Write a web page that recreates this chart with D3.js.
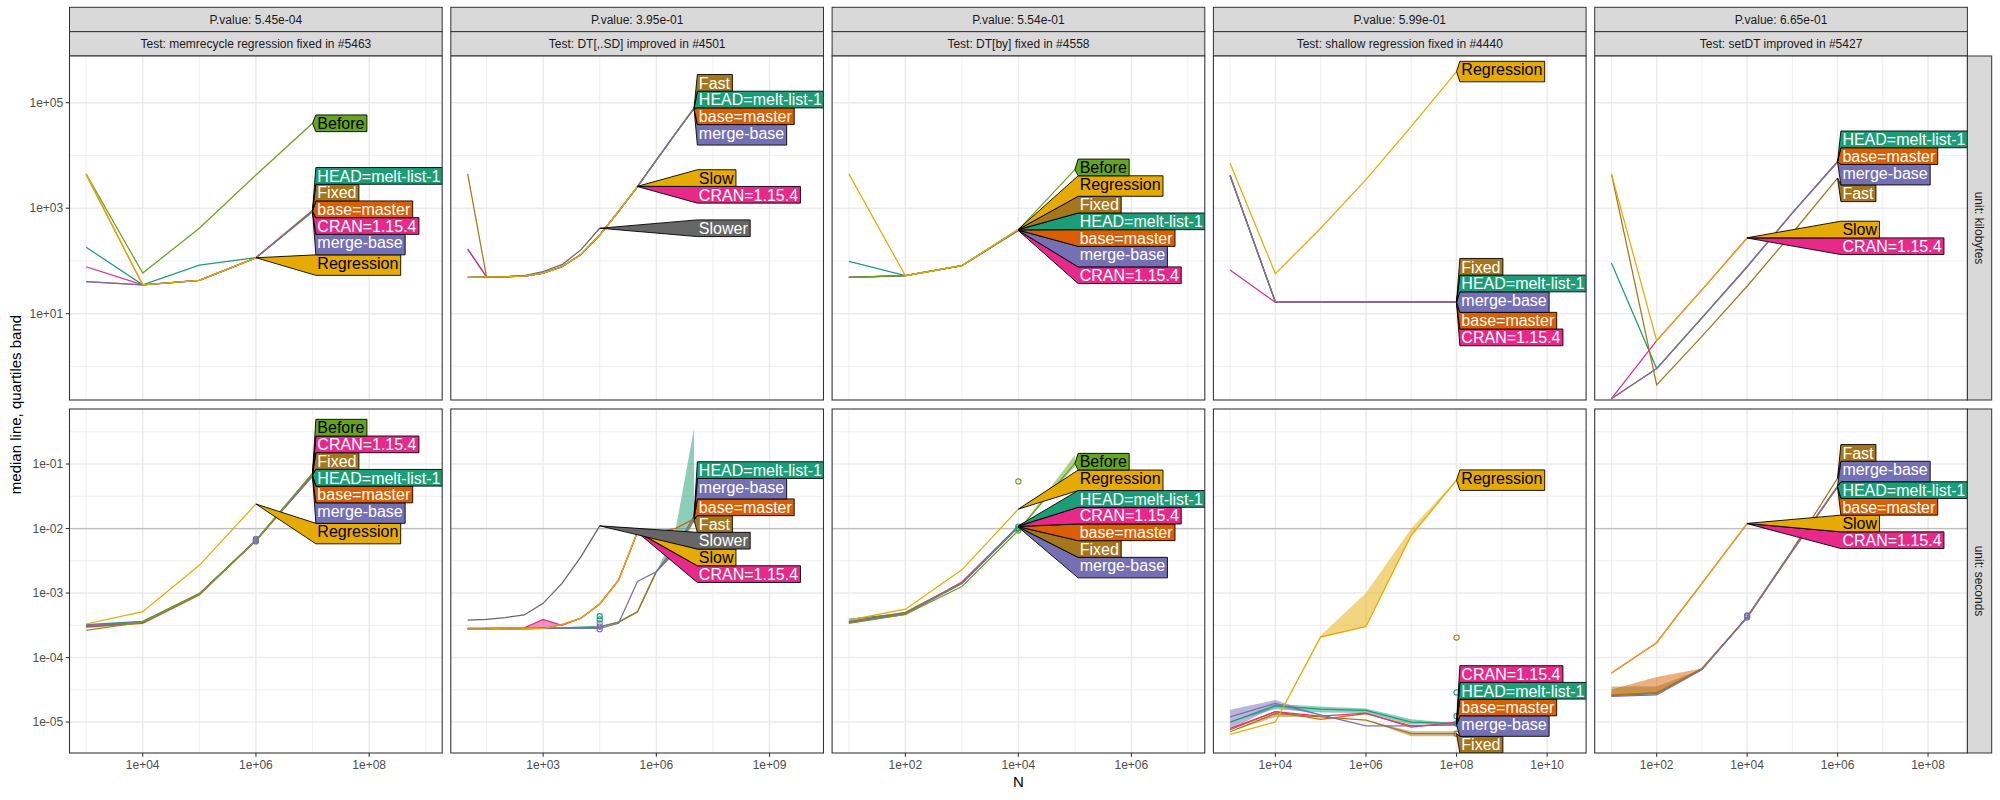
<!DOCTYPE html>
<html><head><meta charset="utf-8">
<script src="https://cdn.jsdelivr.net/npm/d3@7"></script>
<style>body{margin:0;background:#fff}svg{font-family:"Liberation Sans",Arial,Helvetica,sans-serif}</style>
</head><body><svg id="chart" width="2000" height="800"></svg>
<script>
// ---------------- DATA ----------------
const testNames = ["memrecycle regression fixed in #5463","DT[,.SD] improved in #4501","DT[by] fixed in #4558","shallow regression fixed in #4440","setDT improved in #5427"];
const pValues = ["5.45e-04","3.95e-01","5.54e-01","5.99e-01","6.65e-01"];
const unitNames = ["kilobytes","seconds"];
const seriesNames = ["HEAD=melt-list-1","base=master","CRAN=1.15.4","Fixed","Fast","merge-base","Before","Slower","Slow","Regression"];
const seriesColors = ["#1B9E77","#D95F02","#E7298A","#A6761D","#A6761D","#7570B3","#66A61E","#666666","#E6AB02","#E6AB02"];

// axis limits (log10 exponents) and tick values
const yLimitsKB = [-0.636, 5.885];
const yLimitsSec = [-5.48, -0.147];
const yTicksKB = [10, 1000, 100000];
const yTicksSec = [1e-5, 1e-4, 1e-3, 1e-2, 1e-1];
const secondsLimit = 0.01;
const xLimits = [[2.707, 9.29], [0.553, 10.43], [0.703, 7.30], [2.632, 10.86], [0.630, 8.87]];
const xTicks = [[1e4, 1e6, 1e8], [1e3, 1e6, 1e9], [1e2, 1e4, 1e6], [1e4, 1e6, 1e8, 1e10], [1e2, 1e4, 1e6, 1e8]];

// ---- Panel 1: memrecycle ----
const p1N = [1e3, 1e4, 1e5, 1e6, 1e7];
const p1Series = ["HEAD=melt-list-1","base=master","CRAN=1.15.4","Fixed","merge-base","Before","Regression"];
const p1KB = [
  [182, 35.2, 83.2, 115, 912],
  [40.7, 35.2, 42.7, 115, 881],
  [77.6, 35.2, 42.7, 115, 861],
  [4365, 35.2, 42.7, 115, 891],
  [40.7, 35.2, 42.7, 115, 851],
  [4470, 58.9, 417, 4270, 40700],
  [4470, 35.2, 42.7, 115, null]
];
const p1Sec = [
  [3.24e-4, 3.63e-4, 9.77e-4, 6.46e-3, 6.76e-2],
  [2.95e-4, 3.39e-4, 9.33e-4, 6.46e-3, 6.61e-2],
  [3.02e-4, 3.47e-4, 9.55e-4, 6.61e-3, 7.08e-2],
  [3.09e-4, 3.55e-4, 9.77e-4, 6.61e-3, 6.92e-2],
  [3.16e-4, 3.55e-4, 9.55e-4, 6.61e-3, 6.46e-2],
  [2.63e-4, 3.55e-4, 9.55e-4, 6.46e-3, 7.24e-2],
  [3.31e-4, 5.13e-4, 2.69e-3, 2.40e-2, null]
];
const p1Bands = [];
const p1LabelsKB = ["Before","HEAD=melt-list-1","Fixed","base=master","CRAN=1.15.4","merge-base","Regression"];
const p1LabelsSec = ["Before","CRAN=1.15.4","Fixed","HEAD=melt-list-1","base=master","merge-base","Regression"];

// ---- Panel 2: DT[,.SD] ----
const p2N = [10, 31.6, 100, 316, 1000, 3160, 1e4, 31600, 1e5, 316000, 1e6, 3160000, 1e7];
const p2Series = ["HEAD=melt-list-1","base=master","CRAN=1.15.4","Fast","merge-base","Slower","Slow"];
const p2KB = [
  [166, 50.1, 50.1, 51.3, 58.9, 77.6, 132, 309, 871, 2570, 8130, 25700, 78500],
  [49.0, 50.1, 50.1, 51.3, 58.9, 77.6, 132, 309, 871, 2570, 8130, 25700, 77600],
  [170, 50.1, 50.1, 51.3, 58.9, 77.6, 132, 309, 871, 2570, null, null, null],
  [4470, 50.1, 50.1, 51.3, 58.9, 77.6, 132, 309, 871, 2570, 8130, 25700, 79400],
  [49.0, 50.1, 50.1, 51.3, 58.9, 77.6, 132, 309, 871, 2570, 8130, 25700, 76700],
  [49.0, 50.1, 50.1, 52.5, 63.1, 85.1, 162, 417, null, null, null, null, null],
  [49.0, 50.1, 50.1, 51.3, 58.9, 77.6, 132, 309, 871, 2600, null, null, null]
];
const p2Sec = [
  [2.82e-4, 2.82e-4, 2.82e-4, 2.82e-4, 2.88e-4, 2.88e-4, 2.95e-4, 3.02e-4, 3.55e-4, 5.13e-4, 2.14e-3, 4.47e-3, 1.58e-2],
  [2.75e-4, 2.75e-4, 2.88e-4, 2.82e-4, 2.82e-4, 3.24e-4, 4.07e-4, 6.76e-4, 1.58e-3, 8.91e-3, 8.91e-3, 1.0e-2, 1.41e-2],
  [2.75e-4, 2.82e-4, 2.82e-4, 2.88e-4, 3.89e-4, 3.16e-4, 4.07e-4, 6.76e-4, 1.58e-3, 8.71e-3, null, null, null],
  [2.82e-4, 2.82e-4, 2.88e-4, 2.82e-4, 2.88e-4, 2.82e-4, 2.88e-4, 2.95e-4, 3.55e-4, 5.13e-4, 2.14e-3, 4.68e-3, 1.35e-2],
  [2.75e-4, 2.75e-4, 2.75e-4, 2.75e-4, 2.82e-4, 2.82e-4, 2.82e-4, 2.82e-4, 3.39e-4, 1.51e-3, 2.14e-3, 5.25e-3, 1.48e-2],
  [3.80e-4, 3.89e-4, 4.17e-4, 4.57e-4, 6.92e-4, 1.41e-3, 3.63e-3, 1.10e-2, null, null, null, null, null],
  [2.75e-4, 2.75e-4, 2.88e-4, 2.82e-4, 2.82e-4, 3.24e-4, 4.07e-4, 6.76e-4, 1.58e-3, 8.91e-3, null, null, null]
];
const p2Bands = [
  ["HEAD=melt-list-1", 3160000, 3.98e-3, 8.91e-3],
  ["HEAD=melt-list-1", 1e7, 1.26e-2, 0.357],
  ["CRAN=1.15.4", 1000, 2.82e-4, 3.89e-4]
];
const p2LabelsKB = ["Fast","HEAD=melt-list-1","base=master","merge-base","Slow","CRAN=1.15.4","Slower"];
const p2LabelsSec = ["HEAD=melt-list-1","merge-base","base=master","Fast","Slower","Slow","CRAN=1.15.4"];

// ---- Panel 3: DT[by] ----
const p3N = [10, 100, 1000, 1e4, 1e5];
const p3Series = ["HEAD=melt-list-1","base=master","CRAN=1.15.4","Fixed","merge-base","Before","Regression"];
const p3KB = [
  [97.7, 52.5, 81.3, 389, null],
  [49.0, 52.5, 81.3, 385, null],
  [49.0, 52.5, 81.3, 376, null],
  [49.0, 52.5, 81.3, 394, null],
  [49.0, 52.5, 81.3, 380, null],
  [49.0, 52.5, 81.3, 389, 5370],
  [4470, 52.5, 81.3, 398, null]
];
const p3Sec = [
  [3.89e-4, 4.90e-4, 1.45e-3, 1.10e-2, null],
  [3.55e-4, 4.79e-4, 1.41e-3, 1.07e-2, null],
  [3.47e-4, 4.68e-4, 1.48e-3, 1.08e-2, null],
  [3.63e-4, 5.01e-4, 1.45e-3, 1.06e-2, null],
  [3.63e-4, 4.79e-4, 1.41e-3, 1.05e-2, null],
  [3.39e-4, 4.68e-4, 1.26e-3, 9.33e-3, 1.02e-1],
  [3.80e-4, 5.62e-4, 2.29e-3, 2.00e-2, null]
];
const p3Bands = [["Before", 1e5, 9.12e-2, 0.138]];
const p3LabelsKB = ["Before","Regression","Fixed","HEAD=melt-list-1","base=master","merge-base","CRAN=1.15.4"];
const p3LabelsSec = ["Before","Regression","HEAD=melt-list-1","CRAN=1.15.4","base=master","Fixed","merge-base"];

// ---- Panel 4: shallow ----
const p4N = [1e3, 1e4, 1e5, 1e6, 1e7, 1e8];
const p4Series = ["HEAD=melt-list-1","base=master","CRAN=1.15.4","Fixed","merge-base","Regression"];
const p4KB = [
  [4170, 16.7, 16.7, 16.7, 16.7, 16.7],
  [4170, 16.5, 16.5, 16.5, 16.5, 16.5],
  [67.6, 16.4, 16.4, 16.4, 16.4, 16.4],
  [4170, 16.8, 16.8, 16.8, 16.8, 16.8],
  [4170, 16.6, 16.6, 16.6, 16.6, 16.6],
  [7080, 57.5, 417, 3470, 35500, 389000]
];
const p4Sec = [
  [1.0e-5, 1.78e-5, 1.58e-5, 1.51e-5, 1.0e-5, 9.55e-6],
  [7.59e-6, 1.45e-5, 1.10e-5, 1.35e-5, 8.71e-6, 9.12e-6],
  [7.94e-6, 1.45e-5, 1.23e-5, 1.38e-5, 8.32e-6, 1.0e-5],
  [7.08e-6, 1.35e-5, 1.20e-5, 1.07e-5, 6.61e-6, 6.61e-6],
  [1.20e-5, 1.95e-5, 1.29e-5, 8.71e-6, 8.71e-6, 9.02e-6],
  [6.46e-6, 1.0e-5, 2.09e-4, 3.02e-4, 7.94e-3, 5.62e-2]
];
const p4Bands = [
  ["Regression", 1e5, 2.0e-4, 2.19e-4], ["Regression", 1e6, 2.95e-4, 1.0e-3],
  ["Regression", 1e7, 7.41e-3, 1.0e-2], ["Regression", 1e8, 5.5e-2, 5.75e-2],
  ["merge-base", 1e3, 7.6e-6, 1.55e-5], ["merge-base", 1e4, 1.74e-5, 2.19e-5],
  ["HEAD=melt-list-1", 1e4, 1.58e-5, 1.9e-5], ["HEAD=melt-list-1", 1e5, 1.41e-5, 1.74e-5],
  ["HEAD=melt-list-1", 1e6, 1.38e-5, 1.62e-5], ["HEAD=melt-list-1", 1e7, 9.1e-6, 1.1e-5],
  ["Fixed", 1e4, 1.2e-5, 1.4e-5], ["Fixed", 1e7, 6.0e-6, 7.2e-6], ["Fixed", 1e8, 6.0e-6, 7.2e-6]
];
const p4LabelsKB = ["Regression","Fixed","HEAD=melt-list-1","merge-base","base=master","CRAN=1.15.4"];
const p4LabelsSec = ["Regression","CRAN=1.15.4","HEAD=melt-list-1","base=master","merge-base","Fixed"];

// ---- Panel 5: setDT ----
const p5N = [10, 100, 1000, 1e4, 1e5, 1e6];
const p5Series = ["HEAD=melt-list-1","base=master","CRAN=1.15.4","Fast","merge-base","Slow"];
const p5KB = [
  [91.2, 0.912, 8.32, 77.6, 813, 7670],
  [0.245, 0.912, 8.32, 77.6, 813, 7590],
  [0.245, 3.09, 28.2, 272, null, null],
  [4470, 0.447, 3.72, 33.1, 339, 3720],
  [0.245, 0.912, 8.32, 77.6, 813, 7500],
  [4470, 3.09, 28.2, 275, null, null]
];
const p5Sec = [
  [2.57e-5, 2.75e-5, 6.61e-5, 4.17e-4, 4.47e-3, 4.47e-2],
  [2.63e-5, 2.82e-5, 6.76e-5, 4.17e-4, 4.47e-3, 4.37e-2],
  [5.75e-5, 1.70e-4, 1.41e-3, 1.19e-2, null, null],
  [2.57e-5, 2.82e-5, 6.61e-5, 4.27e-4, 4.68e-3, 6.03e-2],
  [2.51e-5, 2.63e-5, 6.46e-5, 4.27e-4, 4.57e-3, 4.57e-2],
  [5.75e-5, 1.70e-4, 1.41e-3, 1.20e-2, null, null]
];
const p5Bands = [
  ["Fast", 10, 2.57e-5, 3.55e-5], ["Fast", 100, 2.82e-5, 3.55e-5],
  ["base=master", 10, 2.63e-5, 3.2e-5], ["base=master", 100, 2.82e-5, 5.01e-5]
];
const p5LabelsKB = ["HEAD=melt-list-1","base=master","merge-base","Fast","Slow","CRAN=1.15.4"];
const p5LabelsSec = ["Fast","merge-base","HEAD=melt-list-1","base=master","Slow","CRAN=1.15.4"];

// highlighted measurements (seconds row): [panel, series, N, seconds]
const hilitePoints = [
  [0,"HEAD=melt-list-1",1e6,6.5e-3],[0,"merge-base",1e6,6.3e-3],[0,"merge-base",1e6,6.6e-3],[0,"merge-base",1e6,6.9e-3],
  [1,"HEAD=melt-list-1",31600,4.37e-4],[1,"HEAD=melt-list-1",31600,3.89e-4],[1,"merge-base",31600,3.39e-4],[1,"merge-base",31600,3.02e-4],[1,"merge-base",31600,2.75e-4],
  [2,"Before",1e4,5.37e-2],[2,"Before",1e4,9.3e-3],[2,"HEAD=melt-list-1",1e4,1.07e-2],[2,"HEAD=melt-list-1",1e4,1.0e-2],
  [3,"Fixed",1e8,2.04e-4],[3,"HEAD=melt-list-1",1e8,2.88e-5],[3,"HEAD=melt-list-1",1e8,1.23e-5],[3,"HEAD=melt-list-1",1e8,9.5e-6],[3,"Fixed",1e8,6.6e-6],
  [4,"merge-base",1e4,4.17e-4],[4,"merge-base",1e4,4.37e-4],[4,"merge-base",1e4,4.5e-4]
];

// ---------------- LAYOUT / STYLE ----------------
const left0 = 69.5, pW = 372.7, pStep = 381.3, pH = 344;
const rowTops = [56, 409];
const stripY0 = 7.3, stripH = 24.35;
const rightStripW = 24.3;
const gridCol = "#EBEBEB", borderCol = "#333333", stripFill = "#D9D9D9";
const labelFont = 16;

const panels = [
  {N:p1N, series:p1Series, kb:p1KB, sec:p1Sec, bands:p1Bands, labels:[p1LabelsKB,p1LabelsSec]},
  {N:p2N, series:p2Series, kb:p2KB, sec:p2Sec, bands:p2Bands, labels:[p2LabelsKB,p2LabelsSec]},
  {N:p3N, series:p3Series, kb:p3KB, sec:p3Sec, bands:p3Bands, labels:[p3LabelsKB,p3LabelsSec]},
  {N:p4N, series:p4Series, kb:p4KB, sec:p4Sec, bands:p4Bands, labels:[p4LabelsKB,p4LabelsSec]},
  {N:p5N, series:p5Series, kb:p5KB, sec:p5Sec, bands:p5Bands, labels:[p5LabelsKB,p5LabelsSec]}
];

const color = d3.scaleOrdinal().domain(seriesNames).range(seriesColors);
const svg = d3.select("#chart");
svg.append("rect").attr("width",2000).attr("height",800).attr("fill","#fff");

const yScales = [
  d3.scaleLog().domain(yLimitsKB.map(e => 10 ** e)).range([rowTops[0] + pH, rowTops[0]]),
  d3.scaleLog().domain(yLimitsSec.map(e => 10 ** e)).range([rowTops[1] + pH, rowTops[1]])
];
const yTicks = [yTicksKB, yTicksSec];

function fmtE(v) {
  const e = Math.round(Math.log10(v));
  return "1e" + (e < 0 ? "-" : "+") + String(Math.abs(e)).padStart(2, "0");
}
function minorFrom(majors, lim) {
  const ex = majors.map(v => Math.log10(v));
  const step = ex[1] - ex[0];
  const out = [];
  for (let e = ex[0] - step / 2; e <= lim[1] + 1e-9; e += step) if (e >= lim[0]) out.push(10 ** e);
  return out;
}
function textColor(hex) {
  const c = d3.rgb(hex);
  return (0.299 * c.r + 0.587 * c.g + 0.114 * c.b) / 255 > 0.5 ? "#000" : "#fff";
}
const measurer = svg.append("text").attr("font-size", labelFont).attr("visibility","hidden");
function textW(s) { measurer.text(s); return measurer.node().getComputedTextLength(); }

function placeLabels(items, top, bottom) {
  const n = items.length, s = [0];
  for (let i = 1; i < n; i++) s[i] = s[i-1] + (items[i-1].h + items[i].h) / 2;
  const blocks = [];
  items.forEach((it, i) => {
    blocks.push({sum: it.ty - s[i], cnt: 1, start: i});
    while (blocks.length > 1) {
      const b = blocks[blocks.length-1], a = blocks[blocks.length-2];
      if (a.sum / a.cnt > b.sum / b.cnt) { a.sum += b.sum; a.cnt += b.cnt; blocks.pop(); } else break;
    }
  });
  const c = new Array(n);
  blocks.forEach(b => { for (let k = 0; k < b.cnt; k++) c[b.start + k] = b.sum / b.cnt + s[b.start + k]; });
  if (c[n-1] + items[n-1].h / 2 > bottom) {
    c[n-1] = bottom - items[n-1].h / 2;
    for (let i = n - 2; i >= 0; i--) c[i] = Math.min(c[i], c[i+1] - (items[i].h + items[i+1].h) / 2);
  }
  if (c[0] - items[0].h / 2 < top) {
    c[0] = top + items[0].h / 2;
    for (let i = 1; i < n; i++) c[i] = Math.max(c[i], c[i-1] + (items[i].h + items[i-1].h) / 2);
  }
  items.forEach((it, i) => it.cy = c[i]);
}

const defs = svg.append("defs");

panels.forEach((P, pi) => {
  const x0 = left0 + pi * pStep;
  const x = d3.scaleLog().domain(xLimits[pi].map(e => 10 ** e)).range([x0, x0 + pW]);
  const xMinor = minorFrom(xTicks[pi], xLimits[pi]);

  // strips
  [ "P.value: " + pValues[pi], "Test: " + testNames[pi] ].forEach((t, k) => {
    const yy = stripY0 + k * stripH;
    svg.append("rect").attr("x", x0).attr("y", yy).attr("width", pW).attr("height", stripH)
      .attr("fill", stripFill).attr("stroke", borderCol).attr("stroke-width", 1);
    svg.append("text").attr("x", x0 + pW / 2).attr("y", yy + stripH / 2).attr("dy", "0.35em")
      .attr("text-anchor", "middle").attr("font-size", 12).attr("fill", "#1A1A1A").text(t);
  });

  [0, 1].forEach(row => {
    const y = yScales[row];
    const top = rowTops[row], bot = top + pH;
    const cid = `clip-${pi}-${row}`;
    defs.append("clipPath").attr("id", cid).append("rect").attr("x", x0).attr("y", top).attr("width", pW).attr("height", pH);
    const g = svg.append("g");
    g.append("rect").attr("x", x0).attr("y", top).attr("width", pW).attr("height", pH).attr("fill", "#fff");
    const gc = g.append("g").attr("clip-path", `url(#${cid})`);
    // grid
    const yMinor = minorFrom(yTicks[row], row ? yLimitsSec : yLimitsKB);
    yMinor.forEach(v => gc.append("line").attr("x1", x0).attr("x2", x0 + pW).attr("y1", y(v)).attr("y2", y(v)).attr("stroke", gridCol).attr("stroke-width", 0.8));
    xMinor.forEach(v => gc.append("line").attr("y1", top).attr("y2", bot).attr("x1", x(v)).attr("x2", x(v)).attr("stroke", gridCol).attr("stroke-width", 0.8));
    yTicks[row].forEach(v => gc.append("line").attr("x1", x0).attr("x2", x0 + pW).attr("y1", y(v)).attr("y2", y(v)).attr("stroke", gridCol).attr("stroke-width", 1.5));
    xTicks[pi].forEach(v => gc.append("line").attr("y1", top).attr("y2", bot).attr("x1", x(v)).attr("x2", x(v)).attr("stroke", gridCol).attr("stroke-width", 1.5));
    if (row === 1) {
      gc.append("line").attr("x1", x0).attr("x2", x0 + pW).attr("y1", y(secondsLimit)).attr("y2", y(secondsLimit))
        .attr("stroke", "#BEBEBE").attr("stroke-width", 1.2);
    }
    const vals = row ? P.sec : P.kb;
    const ordered = seriesNames.filter(s => P.series.includes(s));
    // ribbons
    if (row === 1) {
      ordered.forEach(name => {
        const rows = P.bands.filter(b => b[0] === name);
        if (!rows.length) return;
        const si = P.series.indexOf(name);
        const pts = P.N.map((n, i) => {
          const b = rows.find(r => r[1] === n);
          const m = vals[si][i];
          return {n, lo: b ? b[2] : m, hi: b ? b[3] : m};
        }).filter(d => d.lo != null);
        gc.append("path").attr("d", d3.area().x(d => x(d.n)).y0(d => y(d.lo)).y1(d => y(d.hi))(pts))
          .attr("fill", color(name)).attr("fill-opacity", 0.5).attr("stroke", "none");
      });
    }
    // lines
    ordered.forEach(name => {
      const si = P.series.indexOf(name);
      const pts = P.N.map((n, i) => ({n, v: vals[si][i]}));
      gc.append("path").attr("d", d3.line().defined(d => d.v != null).x(d => x(d.n)).y(d => y(d.v))(pts))
        .attr("fill", "none").attr("stroke", color(name)).attr("stroke-width", 1.25);
    });
    // points
    if (row === 1) {
      hilitePoints.filter(p => p[0] === pi).forEach(p => {
        gc.append("circle").attr("cx", x(p[2])).attr("cy", y(p[3])).attr("r", 2.6)
          .attr("fill", "none").attr("stroke", color(p[1])).attr("stroke-width", 1.1);
      });
    }
    // direct labels
    const items = P.labels[row].map(name => {
      const si = P.series.indexOf(name);
      let last = -1; vals[si].forEach((v, i) => { if (v != null) last = i; });
      const hasDesc = /[gpqyj]/.test(name);
      return {name, ex: x(P.N[last]), ty: y(vals[si][last]), h: hasDesc ? 20.5 : 16.7, w: textW(name)};
    });
    placeLabels(items, top, bot);
    const boxL = d3.max(items, d => d.ex) + 3.3;
    items.slice().reverse().forEach(it => {
      const t = it.cy - it.h / 2, b = it.cy + it.h / 2, R = boxL + 1.5 + it.w + 2.4;
      const poly = [[it.ex, it.ty], [boxL, t], [R, t], [R, b], [boxL, b]];
      gc.append("polygon").attr("points", poly.map(p => p.join(",")).join(" "))
        .attr("fill", color(it.name)).attr("stroke", "#000").attr("stroke-width", 0.9).attr("stroke-linejoin", "miter");
      gc.append("text").attr("x", boxL + 1.5).attr("y", t + 14.1).attr("font-size", labelFont)
        .attr("fill", textColor(color(it.name))).text(it.name);
    });
    // border
    g.append("rect").attr("x", x0).attr("y", top).attr("width", pW).attr("height", pH)
      .attr("fill", "none").attr("stroke", borderCol).attr("stroke-width", 1.07);

    // y axis on first column
    if (pi === 0) {
      yTicks[row].forEach(v => {
        svg.append("line").attr("x1", x0 - 3.7).attr("x2", x0).attr("y1", y(v)).attr("y2", y(v)).attr("stroke", borderCol).attr("stroke-width", 1.07);
        svg.append("text").attr("x", x0 - 6.3).attr("y", y(v)).attr("dy", "0.35em").attr("text-anchor", "end")
          .attr("font-size", 12).attr("fill", "#4D4D4D").text(fmtE(v));
      });
    }
    // x axis on bottom row
    if (row === 1) {
      xTicks[pi].forEach(v => {
        if (x(v) < x0 || x(v) > x0 + pW) return;
        svg.append("line").attr("x1", x(v)).attr("x2", x(v)).attr("y1", bot).attr("y2", bot + 3.7).attr("stroke", borderCol).attr("stroke-width", 1.07);
        svg.append("text").attr("x", x(v)).attr("y", bot + 16.3).attr("text-anchor", "middle")
          .attr("font-size", 12).attr("fill", "#4D4D4D").text(fmtE(v));
      });
    }
    // right strips
    if (pi === panels.length - 1) {
      const sx = x0 + pW;
      svg.append("rect").attr("x", sx).attr("y", top).attr("width", rightStripW).attr("height", pH)
        .attr("fill", stripFill).attr("stroke", borderCol).attr("stroke-width", 1);
      svg.append("text").attr("transform", `translate(${sx + rightStripW / 2},${top + pH / 2}) rotate(90)`)
        .attr("dy", "0.35em").attr("text-anchor", "middle").attr("font-size", 12).attr("fill", "#1A1A1A")
        .text("unit: " + unitNames[row]);
    }
  });
});
measurer.remove();

// axis titles
svg.append("text").attr("x", left0 + 2 * pStep + pW / 2).attr("y", 787).attr("text-anchor", "middle")
  .attr("font-size", 15).attr("fill", "#000").text("N");
svg.append("text").attr("transform", `translate(20.5,${(rowTops[0] + rowTops[1] + pH) / 2}) rotate(-90)`)
  .attr("text-anchor", "middle").attr("font-size", 15).attr("fill", "#000").text("median line, quartiles band");
</script></body></html>
